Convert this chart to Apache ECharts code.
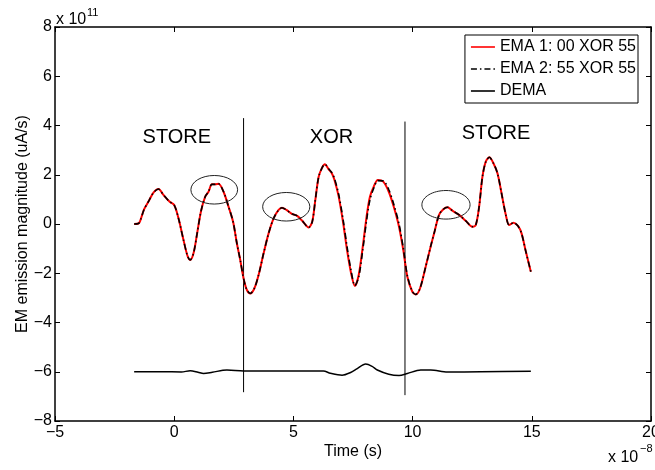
<!DOCTYPE html>
<html><head><meta charset="utf-8">
<script src="https://cdn.jsdelivr.net/npm/echarts@6/dist/echarts.min.js"></script>
<style>html,body{margin:0;padding:0;background:#fff}#c{width:655px;height:470px}</style>
</head><body><div id="c"></div>
<script>
// time in units of 1e-8 s, magnitude in units of 1e11 uA/s
const emaTime = [-1.68,-1.5,-1.43,-1.26,-1.08,-0.87,-0.66,-0.45,-0.20,0.0,0.18,0.39,0.56,0.67,0.81,0.95,1.12,1.30,1.44,1.58,1.72,1.86,2.07,2.28,2.47,2.63,2.77,2.91,3.05,3.19,3.36,3.54,3.75,3.96,4.17,4.38,4.52,4.71,4.94,5.16,5.37,5.64,5.79,5.92,6.06,6.21,6.32,6.48,6.60,6.72,6.90,7.09,7.25,7.42,7.58,7.74,7.91,8.07,8.21,8.37,8.54,8.77,9.00,9.21,9.43,9.61,9.78,9.99,10.13,10.31,10.55,10.76,10.92,11.11,11.29,11.46,11.67,11.95,12.23,12.51,12.65,12.79,12.93,13.07,13.22,13.39,13.56,13.73,13.91,14.05,14.23,14.42,14.57,14.75,14.96];
const ema1 = [0.0,0.02,0.12,0.60,0.91,1.27,1.42,1.18,0.91,0.77,0.23,-0.65,-1.30,-1.46,-1.19,-0.45,0.50,1.11,1.31,1.61,1.61,1.63,1.31,0.70,0.09,-0.79,-1.46,-2.21,-2.68,-2.82,-2.62,-2.07,-1.19,-0.38,0.23,0.57,0.66,0.57,0.41,0.33,0.13,-0.14,0.09,0.98,1.92,2.30,2.43,2.22,2.08,1.80,1.11,0.03,-1.06,-2.00,-2.52,-2.07,-0.92,0.30,1.11,1.52,1.79,1.72,1.31,0.70,-0.11,-1.06,-2.14,-2.75,-2.86,-2.62,-1.73,-0.90,-0.31,0.37,0.60,0.68,0.54,0.37,0.13,-0.11,-0.04,0.70,1.92,2.53,2.71,2.47,2.06,1.25,0.37,-0.04,0.05,-0.08,-0.38,-1.12,-1.94];
const ema2 = [0.0,0.02,0.12,0.60,0.91,1.27,1.42,1.18,0.91,0.77,0.23,-0.65,-1.30,-1.46,-1.19,-0.45,0.50,1.11,1.31,1.61,1.61,1.63,1.31,0.70,0.09,-0.79,-1.46,-2.21,-2.68,-2.82,-2.62,-2.07,-1.19,-0.38,0.23,0.57,0.66,0.57,0.41,0.33,0.13,-0.14,0.09,0.98,1.92,2.30,2.43,2.24,2.10,1.86,1.20,0.15,-0.92,-1.90,-2.50,-2.15,-1.05,0.15,0.98,1.45,1.76,1.75,1.40,0.80,0.00,-0.98,-2.10,-2.74,-2.86,-2.62,-1.73,-0.90,-0.31,0.37,0.60,0.68,0.54,0.37,0.13,-0.11,-0.04,0.70,1.92,2.53,2.71,2.47,2.06,1.25,0.37,-0.04,0.05,-0.08,-0.38,-1.12,-1.94];
const demaTime = [-1.68,-0.5,0.3,0.67,1.0,1.23,1.6,2.21,2.91,4.0,5.0,6.26,6.55,7.04,7.4,7.68,8.03,8.3,8.52,9.0,9.43,9.78,10.34,10.76,11.46,12.86,14.96];
const dema = [-6.0,-6.0,-6.01,-5.96,-6.02,-6.07,-6.02,-5.93,-5.97,-5.97,-5.97,-5.97,-6.06,-6.14,-6.03,-5.87,-5.69,-5.78,-5.93,-6.10,-6.15,-6.07,-5.93,-5.93,-6.01,-6.0,-5.98];

const seriesNames = ['EMA 1: 00 XOR 55', 'EMA 2: 55 XOR 55', 'DEMA'];
const xTickValues = [-5, 0, 5, 10, 15, 20];
const yTickValues = [-8, -6, -4, -2, 0, 2, 4, 6, 8];

const boundaryTime = [2.91, 9.68];
const boundaryTop = [4.3, 4.16];
const boundaryBottom = [-6.83, -6.95];

const sectionNames = ['STORE', 'XOR', 'STORE'];
const sectionTime = [0.11, 6.6, 13.5];
const sectionValue = [3.51, 3.5, 3.69];

const ellipseTime = [1.68, 4.70, 11.40];
const ellipseValue = [1.39, 0.70, 0.78];
const ellipseHalfWidth = [0.98, 0.99, 1.01];
const ellipseHalfHeight = [0.58, 0.58, 0.58];

const FONT = "'Liberation Sans', Arial, Helvetica, sans-serif";
const minusFmt = v => String(v).replace('-', '\u2212');

const xMin = xTickValues[0], xMax = xTickValues[xTickValues.length - 1];
const yMin = yTickValues[0], yMax = yTickValues[yTickValues.length - 1];
const xInt = xTickValues[1] - xTickValues[0];
const yInt = yTickValues[1] - yTickValues[0];

const zip = (a, b) => a.map((t, i) => [t, b[i]]);

// legend sample glyphs (solid and dash-dot strokes)
const solidIcon = 'path://M0,0H24V1.6H0Z';
const dashDotIcon = 'path://M0,0H6V1.6H0Z M9,0H10.5V1.6H9Z M13.5,0H19.5V1.6H13.5Z M22.5,0H24V1.6H22.5Z';
const legendIcons = [solidIcon, dashDotIcon, solidIcon];

const chart = echarts.init(document.getElementById('c'), null, {renderer: 'canvas'});
const axisCommon = {
  type: 'value',
  axisLine: {show: true, onZero: false, lineStyle: {color: '#000', width: 1.5}},
  axisTick: {show: true, inside: true, length: 5, lineStyle: {color: '#000', width: 1}},
  splitLine: {show: false}
};
chart.setOption({
  animation: false,
  backgroundColor: '#fff',
  grid: {left: 55, right: 4, top: 27, bottom: 49, containLabel: false, outerBoundsMode: 'none'},
  xAxis: [
    Object.assign({}, axisCommon, {
      position: 'bottom', min: xMin, max: xMax, interval: xInt,
      axisLabel: {color: '#000', fontSize: 16, fontFamily: FONT, margin: 4, formatter: minusFmt, showMaxLabel: true, showMinLabel: true},
      name: 'Time (s)', nameLocation: 'middle', nameGap: 23, nameMoveOverlap: false,
      nameTextStyle: {color: '#000', fontSize: 16, fontFamily: FONT}
    }),
    Object.assign({}, axisCommon, {
      position: 'top', min: xMin, max: xMax, interval: xInt, axisLabel: {show: false}
    })
  ],
  yAxis: [
    Object.assign({}, axisCommon, {
      position: 'left', min: yMin, max: yMax, interval: yInt,
      axisLabel: {color: '#000', fontSize: 16, fontFamily: FONT, margin: 3, formatter: minusFmt},
      name: 'EM emission magnitude (uA/s)', nameLocation: 'middle', nameGap: 24, nameMoveOverlap: false,
      nameTextStyle: {color: '#000', fontSize: 16, fontFamily: FONT}
    }),
    Object.assign({}, axisCommon, {
      position: 'right', min: yMin, max: yMax, interval: yInt, axisLabel: {show: false}
    })
  ],
  legend: {
    data: seriesNames.map((n, i) => ({name: n, icon: legendIcons[i]})),
    orient: 'vertical',
    right: 17, top: 35,
    padding: [4, 2, 4, 6],
    itemGap: 6, itemWidth: 24, itemHeight: 14,
    symbolKeepAspect: true,
    borderColor: '#000', borderWidth: 1, borderRadius: 0,
    backgroundColor: '#fff',
    textStyle: {color: '#000', fontSize: 16, fontFamily: FONT},
    selectedMode: false, z: 10
  },
  graphic: [
    {type: 'text', left: 56, top: 12, style: {text: 'x 10', fill: '#000', font: '16px ' + FONT}},
    {type: 'text', left: 87, top: 7, style: {text: '11', fill: '#000', font: '11px ' + FONT}},
    {type: 'text', left: 608, top: 450, style: {text: 'x 10', fill: '#000', font: '16px ' + FONT}},
    {type: 'text', left: 640, top: 443, style: {text: '\u22128', fill: '#000', font: '11px ' + FONT}}
  ],
  series: [
    {
      name: seriesNames[0], type: 'line', data: zip(emaTime, ema1),
      showSymbol: false, symbol: 'none', smooth: 0.3, color: '#ff0000',
      lineStyle: {color: '#ff0000', width: 2}, z: 3
    },
    {
      name: seriesNames[1], type: 'line', data: zip(emaTime, ema2),
      showSymbol: false, symbol: 'none', smooth: 0.3, color: '#000',
      lineStyle: {color: '#000', width: 1.6, type: [6, 3, 1.5, 3]}, z: 4
    },
    {
      name: seriesNames[2], type: 'line', data: zip(demaTime, dema),
      showSymbol: false, symbol: 'none', smooth: 0.3, color: '#000',
      lineStyle: {color: '#000', width: 1.5}, z: 3
    },
    {
      type: 'custom', silent: true, z: 2,
      data: boundaryTime.map((t, i) => [t, boundaryTop[i], boundaryBottom[i]]),
      renderItem(params, api) {
        const p1 = api.coord([api.value(0), api.value(1)]);
        const p2 = api.coord([api.value(0), api.value(2)]);
        return {type: 'line', shape: {x1: p1[0], y1: p1[1], x2: p2[0], y2: p2[1]},
                style: {stroke: '#000', lineWidth: 1}};
      }
    },
    {
      type: 'custom', silent: true, z: 5,
      data: ellipseTime.map((t, i) => [t, ellipseValue[i], ellipseHalfWidth[i], ellipseHalfHeight[i]]),
      renderItem(params, api) {
        const c = api.coord([api.value(0), api.value(1)]);
        const s = api.size([api.value(2), api.value(3)]);
        return {type: 'ellipse', shape: {cx: c[0], cy: c[1], rx: s[0], ry: s[1]},
                style: {fill: 'none', stroke: '#222', lineWidth: 1}};
      }
    },
    {
      type: 'scatter', silent: true, symbolSize: 0, z: 6,
      itemStyle: {opacity: 1},
      data: sectionNames.map((n, i) => ({name: n, value: [sectionTime[i], sectionValue[i]]})),
      label: {show: true, position: 'inside', formatter: p => p.name, color: '#000', opacity: 1, fontSize: 20, fontFamily: FONT}
    }
  ]
});
</script>
</body></html>
